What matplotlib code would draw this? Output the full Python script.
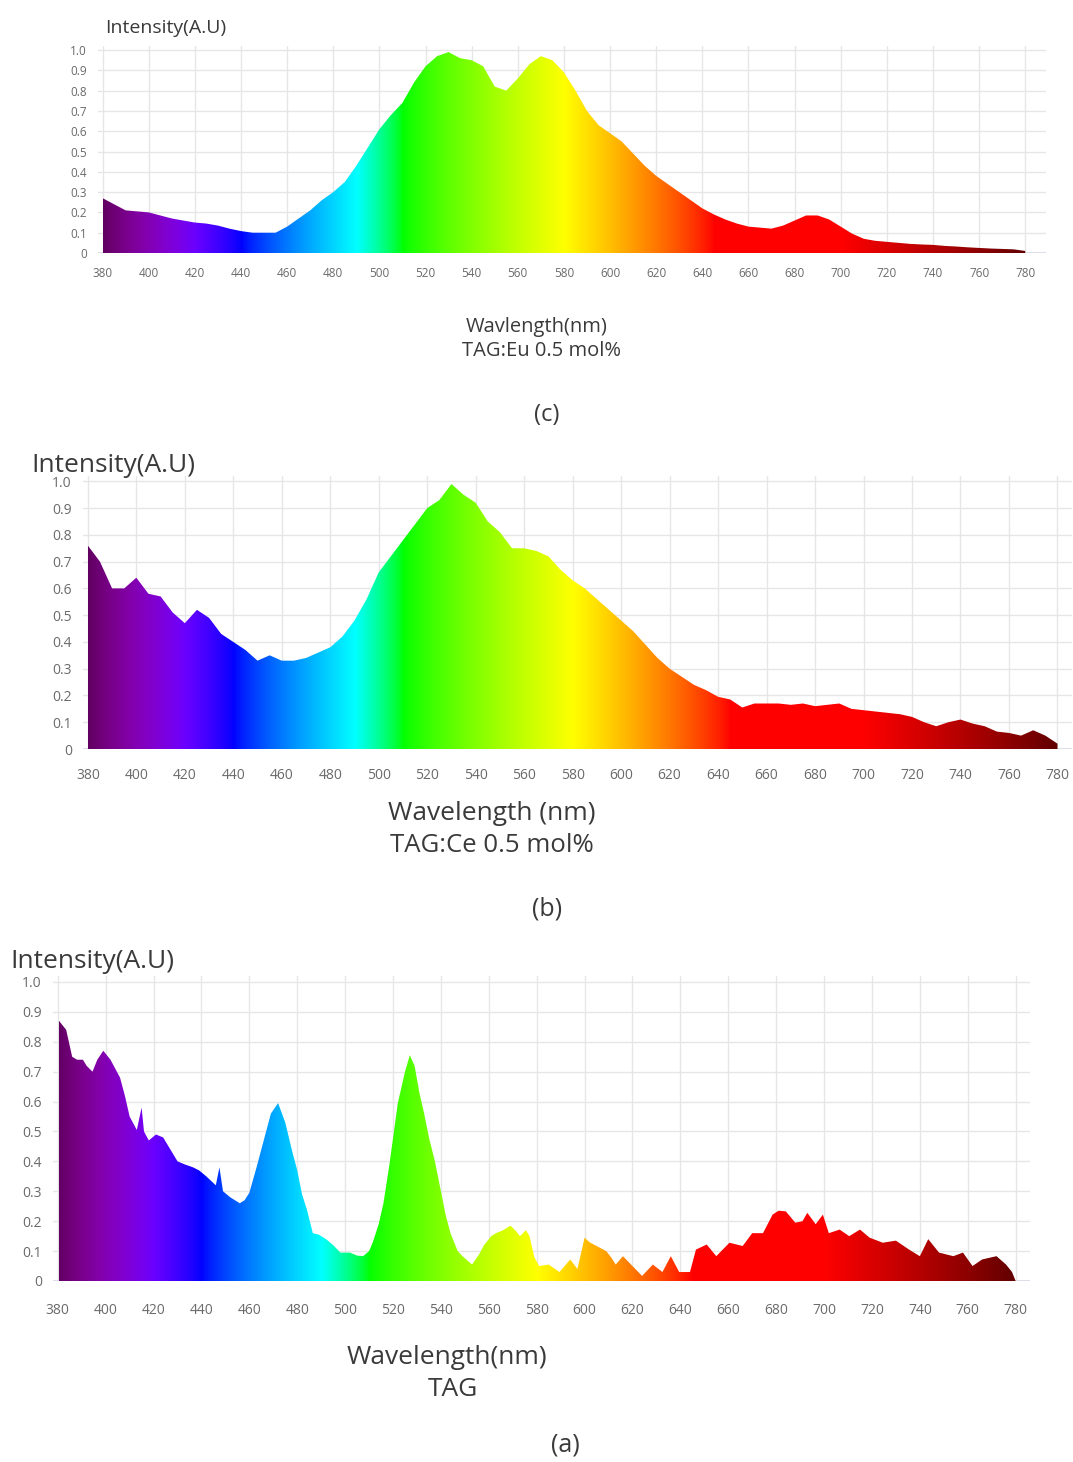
import numpy as np
import matplotlib
matplotlib.use("Agg")
from matplotlib import pyplot as plt
from matplotlib.patches import Polygon

plt.rcParams['font.family'] = ['Open Sans', 'DejaVu Sans']

# ---- data ----
wl_5nm = list(range(380, 781, 5))

# (c) TAG:Eu 0.5 mol%
int_eu = [0.27, 0.24, 0.21, 0.205, 0.20, 0.185, 0.17, 0.16, 0.15, 0.145,
          0.135, 0.12, 0.108, 0.10, 0.10, 0.10, 0.13, 0.17, 0.21, 0.26,
          0.30, 0.35, 0.43, 0.52, 0.61, 0.68, 0.74, 0.84, 0.92, 0.97,
          0.99, 0.96, 0.95, 0.92, 0.82, 0.80, 0.86, 0.93, 0.97, 0.95,
          0.89, 0.80, 0.70, 0.63, 0.59, 0.55, 0.49, 0.43, 0.38, 0.34,
          0.30, 0.26, 0.22, 0.19, 0.165, 0.145, 0.13, 0.125, 0.12, 0.135,
          0.16, 0.185, 0.185, 0.165, 0.13, 0.095, 0.07, 0.06, 0.055, 0.05,
          0.045, 0.042, 0.04, 0.035, 0.032, 0.028, 0.025, 0.022, 0.02, 0.018,
          0.01]

# (b) TAG:Ce 0.5 mol%
int_ce = [0.76, 0.70, 0.60, 0.60, 0.64, 0.58, 0.57, 0.51, 0.47, 0.52,
          0.49, 0.43, 0.40, 0.37, 0.33, 0.35, 0.33, 0.33, 0.34, 0.36,
          0.38, 0.42, 0.48, 0.56, 0.66, 0.72, 0.78, 0.84, 0.90, 0.93,
          0.99, 0.95, 0.92, 0.85, 0.81, 0.75, 0.75, 0.74, 0.72, 0.67,
          0.63, 0.60, 0.56, 0.52, 0.48, 0.44, 0.39, 0.34, 0.30, 0.27,
          0.24, 0.22, 0.195, 0.185, 0.155, 0.17, 0.17, 0.17, 0.165, 0.17,
          0.16, 0.165, 0.17, 0.15, 0.145, 0.14, 0.135, 0.13, 0.12, 0.10,
          0.085, 0.10, 0.11, 0.095, 0.085, 0.065, 0.06, 0.05, 0.07, 0.05,
          0.02]

# (a) TAG (undoped)
wl_tag = [380.5, 383.5, 386, 388, 390.5, 392, 394.5, 396.5, 399, 402,
          404, 406, 408, 410, 413, 415, 416, 418, 421, 424,
          427, 430, 433, 436.5, 439, 442, 446, 447.5, 449, 452,
          456, 458, 460, 463, 466, 469, 472, 475, 478, 480,
          482, 484, 486.5, 489, 492, 495, 498, 502, 505, 507.5,
          510, 511.5, 514, 516, 518.5, 522, 525, 527, 529, 531,
          533, 535, 537.5, 539.5, 542, 544, 547, 549, 553, 556,
          558, 561, 563, 566, 569, 571, 573, 575.5, 577, 579,
          581, 585, 589.5, 594, 597, 600, 602, 605, 609, 611,
          613, 616, 620, 624, 628.5, 632.5, 636, 639.5, 644, 646.5,
          651, 655, 660.5, 666, 670, 674.5, 678.5, 681, 684, 688,
          691, 693, 696.5, 699.5, 702, 706.5, 710.5, 715, 719, 724.5,
          730, 735.5, 740, 743.5, 748, 754, 758, 762, 766, 772,
          776, 778.5, 780]
int_tag = [0.87, 0.84, 0.75, 0.74, 0.74, 0.72, 0.70, 0.74, 0.77, 0.74,
           0.71, 0.68, 0.62, 0.55, 0.505, 0.58, 0.50, 0.47, 0.49, 0.48,
           0.44, 0.40, 0.39, 0.38, 0.37, 0.35, 0.32, 0.38, 0.30, 0.28,
           0.26, 0.27, 0.295, 0.38, 0.47, 0.56, 0.595, 0.53, 0.43, 0.37,
           0.29, 0.24, 0.16, 0.155, 0.14, 0.12, 0.095, 0.095, 0.085, 0.083,
           0.10, 0.128, 0.19, 0.26, 0.39, 0.595, 0.70, 0.755, 0.72, 0.63,
           0.56, 0.48, 0.40, 0.32, 0.22, 0.16, 0.10, 0.083, 0.055, 0.09,
           0.12, 0.15, 0.16, 0.17, 0.185, 0.17, 0.15, 0.17, 0.15, 0.08,
           0.05, 0.055, 0.03, 0.072, 0.04, 0.145, 0.13, 0.117, 0.10, 0.08,
           0.055, 0.083, 0.05, 0.017, 0.055, 0.03, 0.083, 0.03, 0.03, 0.105,
           0.122, 0.083, 0.128, 0.117, 0.16, 0.16, 0.222, 0.235, 0.233, 0.195,
           0.20, 0.228, 0.19, 0.222, 0.16, 0.172, 0.15, 0.172, 0.145, 0.128,
           0.135, 0.105, 0.083, 0.14, 0.095, 0.083, 0.095, 0.05, 0.072, 0.083,
           0.055, 0.03, 0.0]

x_ticks = list(range(380, 781, 20))
y_ticks = [0, 0.1, 0.2, 0.3, 0.4, 0.5, 0.6, 0.7, 0.8, 0.9, 1.0]
y_labels = ['0', '0.1', '0.2', '0.3', '0.4', '0.5', '0.6', '0.7', '0.8', '0.9', '1.0']


def wavelength_to_rgb(w, gamma=0.8):
    # classic Bruton approximation of visible colour
    if w < 440:
        r, g, b = -(w - 440) / 60, 0.0, 1.0
    elif w < 490:
        r, g, b = 0.0, (w - 440) / 50, 1.0
    elif w < 510:
        r, g, b = 0.0, 1.0, -(w - 510) / 20
    elif w < 580:
        r, g, b = (w - 510) / 70, 1.0, 0.0
    elif w < 645:
        r, g, b = 1.0, -(w - 645) / 65, 0.0
    else:
        r, g, b = 1.0, 0.0, 0.0
    if w < 420:
        f = 0.3 + 0.7 * (w - 380) / 40
    elif w > 700:
        f = 0.3 + 0.7 * (780 - w) / 80
    else:
        f = 1.0
    return [(c * f) ** gamma for c in (r, g, b)]


grad_x = np.linspace(380, 780, 801)
gradient = np.array([wavelength_to_rgb(w) for w in grad_x])[np.newaxis, :, :]

W, H = 1073, 1462
TXT = '#3a3a3a'
fig = plt.figure(figsize=(W / 100, H / 100), dpi=100)


def px_axes(x0, x1, y_top, y_bot):
    return fig.add_axes([x0 / W, 1 - y_bot / H, (x1 - x0) / W, (y_bot - y_top) / H])


def label(x, y, s, size, ha='center'):
    fig.text(x / W, 1 - y / H, s, fontsize=size, color=TXT, ha=ha, va='center')


def spectrum(ax, wl, vals, xmax, tick_size, xpad):
    ax.set_xlim(378, xmax)
    ax.set_ylim(0, 1.02)
    im = ax.imshow(gradient, extent=(380, 780, 0, 1.02), aspect='auto',
                   origin='lower', zorder=2, interpolation='bilinear')
    verts = [(wl[0], 0)] + list(zip(wl, vals)) + [(wl[-1], 0)]
    patch = Polygon(verts, closed=True, fc='none', ec='none', transform=ax.transData)
    ax.add_patch(patch)
    im.set_clip_path(patch)
    ax.set_xticks(x_ticks)
    ax.set_yticks(y_ticks)
    ax.set_yticklabels(y_labels)
    ax.grid(True, color='#e6e6e6', linewidth=1.0, zorder=0)
    ax.set_axisbelow(True)
    for s in ax.spines.values():
        s.set_visible(False)
    ax.axhline(0, color='#d8d8e8', linewidth=1.2, zorder=1)
    ax.tick_params(length=0, labelsize=tick_size, labelcolor='#6a6a6a')
    ax.tick_params(axis='x', pad=xpad)
    ax.tick_params(axis='y', pad=8)


# (c) top panel
ax_c = px_axes(98, 1046, 46, 253)
spectrum(ax_c, wl_5nm, int_eu, 789, 8.5, 10)
label(105, 28, 'Intensity(A.U)', 14, ha='left')
label(537, 327, 'Wavlength(nm)', 14.5)
label(541, 351, 'TAG:Eu 0.5 mol%', 14.5)
label(547, 415, '(c)', 17)

# (b) middle panel
ax_b = px_axes(83, 1072, 476, 749)
spectrum(ax_b, wl_5nm, int_ce, 786, 10, 14)
label(31, 466, 'Intensity(A.U)', 19, ha='left')
label(492, 813, 'Wavelength (nm)', 19)
label(492, 845, 'TAG:Ce 0.5 mol%', 18.5)
label(547, 909, '(b)', 18)

# (a) bottom panel
ax_a = px_axes(53, 1030, 976, 1281)
spectrum(ax_a, wl_tag, int_tag, 786, 10, 16)
label(10, 962, 'Intensity(A.U)', 19, ha='left')
label(447, 1357, 'Wavelength(nm)', 19)
label(453, 1390, 'TAG', 19)
label(565, 1445, '(a)', 18)

fig.savefig('out.png', dpi=100, facecolor='white')
